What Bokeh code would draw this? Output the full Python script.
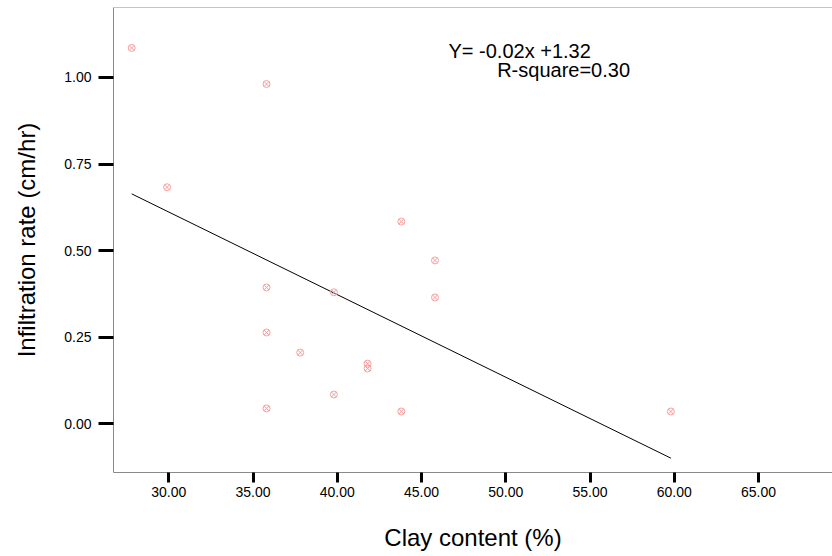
import numpy as np
from bokeh.plotting import figure
from bokeh.models import FixedTicker, NumeralTickFormatter, Span, Label, Range1d
from bokeh.embed import file_html
from bokeh.resources import INLINE

# Data
clay = [27.8, 35.8, 29.9, 43.8, 45.8, 45.8, 35.8, 39.8, 35.8, 37.8, 41.8, 41.8, 39.8, 35.8, 43.8, 59.8]
infil = [1.085, 0.981, 0.683, 0.584, 0.472, 0.365, 0.394, 0.380, 0.264, 0.206, 0.174, 0.160, 0.085, 0.045, 0.036, 0.036]
x_ticks = [30, 35, 40, 45, 50, 55, 60, 65]
y_ticks = [0.0, 0.25, 0.50, 0.75, 1.00]
eq_text = "Y= -0.02x +1.32"
r2_text = "R-square=0.30"

FONT = "Liberation Sans"
GREY = "#8a8a8a"

x_start, x_end = 26.72, 69.39
y_start, y_end = -0.140, 1.2017

p = figure(width=832, height=556, output_backend="svg", toolbar_location=None,
           x_range=Range1d(x_start, x_end), y_range=Range1d(y_start, y_end),
           min_border_left=113, min_border_right=0, min_border_top=7, min_border_bottom=84)
p.outline_line_color = None
p.grid.visible = False
p.background_fill_color = "white"
p.border_fill_color = "white"

# Regression line via least squares
slope, intercept = np.polyfit(clay, infil, 1)
lx = [min(clay), max(clay)]
ly = [slope * v + intercept for v in lx]
p.line(lx, ly, line_color="black", line_width=1)

p.scatter(clay, infil, marker="circle_x", size=7, line_color="#f7a0a0", fill_color=None, line_width=1)

# top border
p.add_layout(Span(location=y_end, dimension="width", line_color=GREY, line_width=1))

for ax in (p.xaxis[0], p.yaxis[0]):
    ax.axis_line_color = GREY
    ax.axis_line_width = 1
    ax.major_tick_line_color = "black"
    ax.major_tick_line_width = 3
    ax.major_tick_in = 0
    ax.minor_tick_line_color = None
    ax.major_label_text_font = FONT
    ax.major_label_text_font_size = "14px"
    ax.major_label_text_color = "black"
    ax.axis_label_text_font = FONT
    ax.axis_label_text_font_size = "24px"
    ax.axis_label_text_font_style = "normal"
    ax.axis_label_text_color = "black"
    ax.formatter = NumeralTickFormatter(format="0.00")

p.xaxis[0].ticker = FixedTicker(ticks=x_ticks)
p.yaxis[0].ticker = FixedTicker(ticks=y_ticks)
p.xaxis[0].major_tick_out = 10
p.yaxis[0].major_tick_out = 15
p.xaxis[0].major_label_standoff = 4
p.yaxis[0].major_label_standoff = 7
p.xaxis[0].axis_label = "Clay content (%)"
p.yaxis[0].axis_label = "Infiltration rate (cm/hr)"
p.xaxis[0].axis_label_standoff = 24
p.yaxis[0].axis_label_standoff = 21

p.add_layout(Label(x=46.6, y=1.076, text=eq_text, text_font=FONT, text_font_size="20px",
                   text_baseline="middle", text_color="black"))
p.add_layout(Label(x=49.49, y=1.021, text=r2_text, text_font=FONT, text_font_size="20px",
                   text_baseline="middle", text_color="black"))

open("out.html", "w").write(file_html(p, INLINE))
